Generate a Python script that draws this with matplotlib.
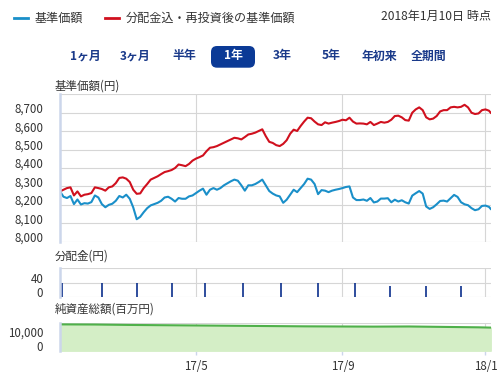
import numpy as np
import pandas as pd
import matplotlib
matplotlib.use("Agg")
import matplotlib.pyplot as plt
from matplotlib.lines import Line2D
from matplotlib.patches import FancyBboxPatch
from matplotlib.transforms import ScaledTranslation, IdentityTransform

plt.rcParams['font.family'] = ['Noto Sans CJK JP', 'DejaVu Sans']

# 営業日 (土日・祝日を除く) -> 横軸は営業日ベース
holidays = ['2017-03-20', '2017-05-03', '2017-05-04', '2017-05-05', '2017-07-17',
            '2017-08-11', '2017-09-18', '2017-10-09', '2017-11-03', '2017-11-23',
            '2018-01-01', '2018-01-02', '2018-01-03', '2018-01-08']
days = pd.bdate_range('2017-01-10', '2018-01-10')
days = days[~days.isin(pd.to_datetime(holidays))]

# 基準価額 (2営業日ごと + 最終日)
nav = [8273, 8244, 8237, 8248, 8204, 8229, 8202, 8209, 8207, 8215,
       8251, 8240, 8204, 8187, 8200, 8206, 8222, 8248, 8240, 8255,
       8233, 8186, 8122, 8135, 8160, 8182, 8197, 8204, 8211, 8222,
       8240, 8244, 8233, 8218, 8237, 8233, 8233, 8246, 8251, 8264,
       8277, 8288, 8255, 8282, 8291, 8282, 8291, 8306, 8317, 8328,
       8337, 8331, 8306, 8277, 8306, 8306, 8313, 8324, 8337, 8306,
       8275, 8261, 8251, 8246, 8211, 8228, 8255, 8282, 8269, 8291,
       8313, 8342, 8337, 8313, 8258, 8280, 8277, 8269, 8277, 8282,
       8286, 8291, 8297, 8300, 8240, 8226, 8226, 8229, 8222, 8237,
       8213, 8218, 8234, 8234, 8236, 8214, 8228, 8218, 8225, 8214,
       8207, 8250, 8263, 8275, 8261, 8191, 8178, 8187, 8203, 8221,
       8223, 8218, 8236, 8254, 8243, 8214, 8203, 8198, 8182, 8171,
       8176, 8194, 8196, 8189, 8178]
# 分配金込・再投資後の基準価額
nav_reinv = [8273, 8282, 8291, 8295, 8251, 8273, 8246, 8255, 8258, 8264,
             8295, 8291, 8286, 8277, 8295, 8300, 8318, 8346, 8349, 8342,
             8324, 8282, 8260, 8262, 8291, 8313, 8337, 8346, 8355, 8367,
             8378, 8383, 8389, 8400, 8419, 8415, 8410, 8422, 8440, 8451,
             8459, 8468, 8491, 8510, 8513, 8519, 8528, 8537, 8546, 8555,
             8564, 8561, 8555, 8568, 8582, 8586, 8592, 8601, 8610, 8573,
             8542, 8536, 8524, 8519, 8531, 8551, 8586, 8608, 8601, 8628,
             8652, 8673, 8670, 8652, 8637, 8633, 8648, 8641, 8646, 8650,
             8655, 8662, 8659, 8673, 8652, 8641, 8642, 8641, 8637, 8650,
             8633, 8641, 8650, 8646, 8650, 8662, 8682, 8684, 8675, 8660,
             8657, 8700, 8718, 8729, 8714, 8675, 8664, 8668, 8682, 8707,
             8714, 8714, 8729, 8732, 8729, 8732, 8743, 8729, 8700, 8693,
             8696, 8714, 8718, 8711, 8700]

# 分配金
div_dates = ['2017-01-11', '2017-02-13', '2017-03-13', '2017-04-11', '2017-05-11', '2017-06-12',
             '2017-07-12', '2017-08-14', '2017-09-12', '2017-10-12', '2017-11-13', '2017-12-12']
dividends = [40, 40, 40, 40, 40, 40, 40, 40, 40, 30, 30, 30]

# 純資産総額 (百万円, 20営業日ごと + 最終日)
net_assets = [18800, 18700, 18400, 18200, 18000, 17800, 17600,
              17400, 17300, 17200, 17300, 17000, 16700, 16500]

tick_dates = ['2017-05-01', '2017-09-01', '2018-01-04']
tick_labels = ['17/5', '17/9', '18/1']

c_nav = '#1a8fc9'
c_reinv = '#d0101e'
c_div = '#0b2f8c'
c_grid = '#d6d6d6'
c_axis = '#ccd6eb'
c_text = '#333333'
navy = '#0b3a96'

sample_days = days[::2].append(days[-1:])
nav_x = days.get_indexer(sample_days)
net_x = days.get_indexer(days[::20].append(days[-1:]))
div_x = days.get_indexer(pd.to_datetime(div_dates))
tick_x = days.get_indexer(pd.to_datetime(tick_dates))

W, H = 503, 376
fig = plt.figure(figsize=(W / 100, H / 100), dpi=100)


def box(x0, y0, x1, y1):
    return [x0 / W, 1 - y1 / H, (x1 - x0) / W, (y1 - y0) / H]


ax = fig.add_axes(box(60, 94.3, 490.7, 241.7))
ax_div = fig.add_axes(box(60, 268.3, 490.7, 297))
ax_net = fig.add_axes(box(60, 322.7, 490.7, 350.7))

up = ScaledTranslation(0, 0.05, fig.dpi_scale_trans)


def style(a, yticks, ylabels, ylim):
    a.set_xlim(0, len(days) - 1)
    a.set_ylim(*ylim)
    a.set_yticks(yticks)
    a.set_yticklabels(ylabels)
    a.set_xticks(tick_x)
    a.set_xticklabels(tick_labels)
    a.grid(True, color=c_grid, lw=0.8)
    a.set_axisbelow(True)
    for s in ['top', 'right', 'bottom']:
        a.spines[s].set_visible(False)
    a.spines['left'].set_color(c_axis)
    a.spines['left'].set_linewidth(1.8)
    a.spines['left'].set_zorder(5)
    a.tick_params(axis='y', length=0, pad=12, labelsize=8.3, labelcolor=c_text)
    a.tick_params(axis='x', length=0, labelbottom=False)
    for lab in a.get_yticklabels():
        lab.set_transform(lab.get_transform() + up)


main_ticks = [8000, 8100, 8200, 8300, 8400, 8500, 8600, 8700, 8800]
style(ax, main_ticks, [f'{v:,}' for v in main_ticks[:-1]] + [''], (8000, 8800))
ax.plot(nav_x, nav_reinv, color=c_reinv, lw=1.5, zorder=3)
ax.plot(nav_x, nav, color=c_nav, lw=1.5, zorder=3)

style(ax_div, [0, 40, 80], ['0', '40', ''], (0, 80))
ax_div.vlines(div_x, 0, dividends, color=c_div, lw=1.2, zorder=3)

style(ax_net, [0, 10000, 20000], ['0', '10,000', ''], (0, 20000))
ax_net.fill_between(net_x, net_assets, color='#d4eec6', zorder=2)
ax_net.plot(net_x, net_assets, color='#4fb04a', lw=1.5, zorder=3)
ax_net.tick_params(axis='x', length=3, color=c_axis, width=1, pad=4,
                   labelbottom=True, labelsize=8.3, labelcolor=c_text)

# panel titles
fig.text(55 / W, 1 - 86 / H, '基準価額(円)', fontsize=8.3, va='center', color=c_text)
fig.text(55 / W, 1 - 256 / H, '分配金(円)', fontsize=8.3, va='center', color=c_text)
fig.text(55 / W, 1 - 309 / H, '純資産総額(百万円)', fontsize=8.3, va='center', color=c_text)

# header legend
fig.add_artist(Line2D([14 / W, 28 / W], [1 - 18 / H] * 2, color=c_nav, lw=2,
                      transform=fig.transFigure))
fig.text(35 / W, 1 - 18 / H, '基準価額', fontsize=8.7, va='center', color=c_text)
fig.add_artist(Line2D([105 / W, 119 / W], [1 - 18 / H] * 2, color=c_reinv, lw=2,
                      transform=fig.transFigure))
fig.text(126 / W, 1 - 18 / H, '分配金込・再投資後の基準価額', fontsize=8.7, va='center', color=c_text)
fig.text(491 / W, 1 - 16 / H, '2018年1月10日 時点', fontsize=8.7, va='center', ha='right', color=c_text)

# period buttons
fig.add_artist(FancyBboxPatch((211, H - 67.7), 44, 21.7,
                              boxstyle='round,pad=0,rounding_size=6',
                              facecolor=navy, edgecolor='none',
                              transform=IdentityTransform()))
periods = ['1ヶ月', '3ヶ月', '半年', '1年', '3年', '5年', '年初来', '全期間']
period_x = [85.7, 134.7, 184, 233.3, 282, 331, 379, 428.3]
for lab, px in zip(periods, period_x):
    fig.text(px / W, 1 - 56 / H, lab, fontsize=8.6, fontweight='bold', ha='center', va='center',
             color='white' if lab == '1年' else '#1a3a8a')

fig.savefig('out.png', dpi=100)
